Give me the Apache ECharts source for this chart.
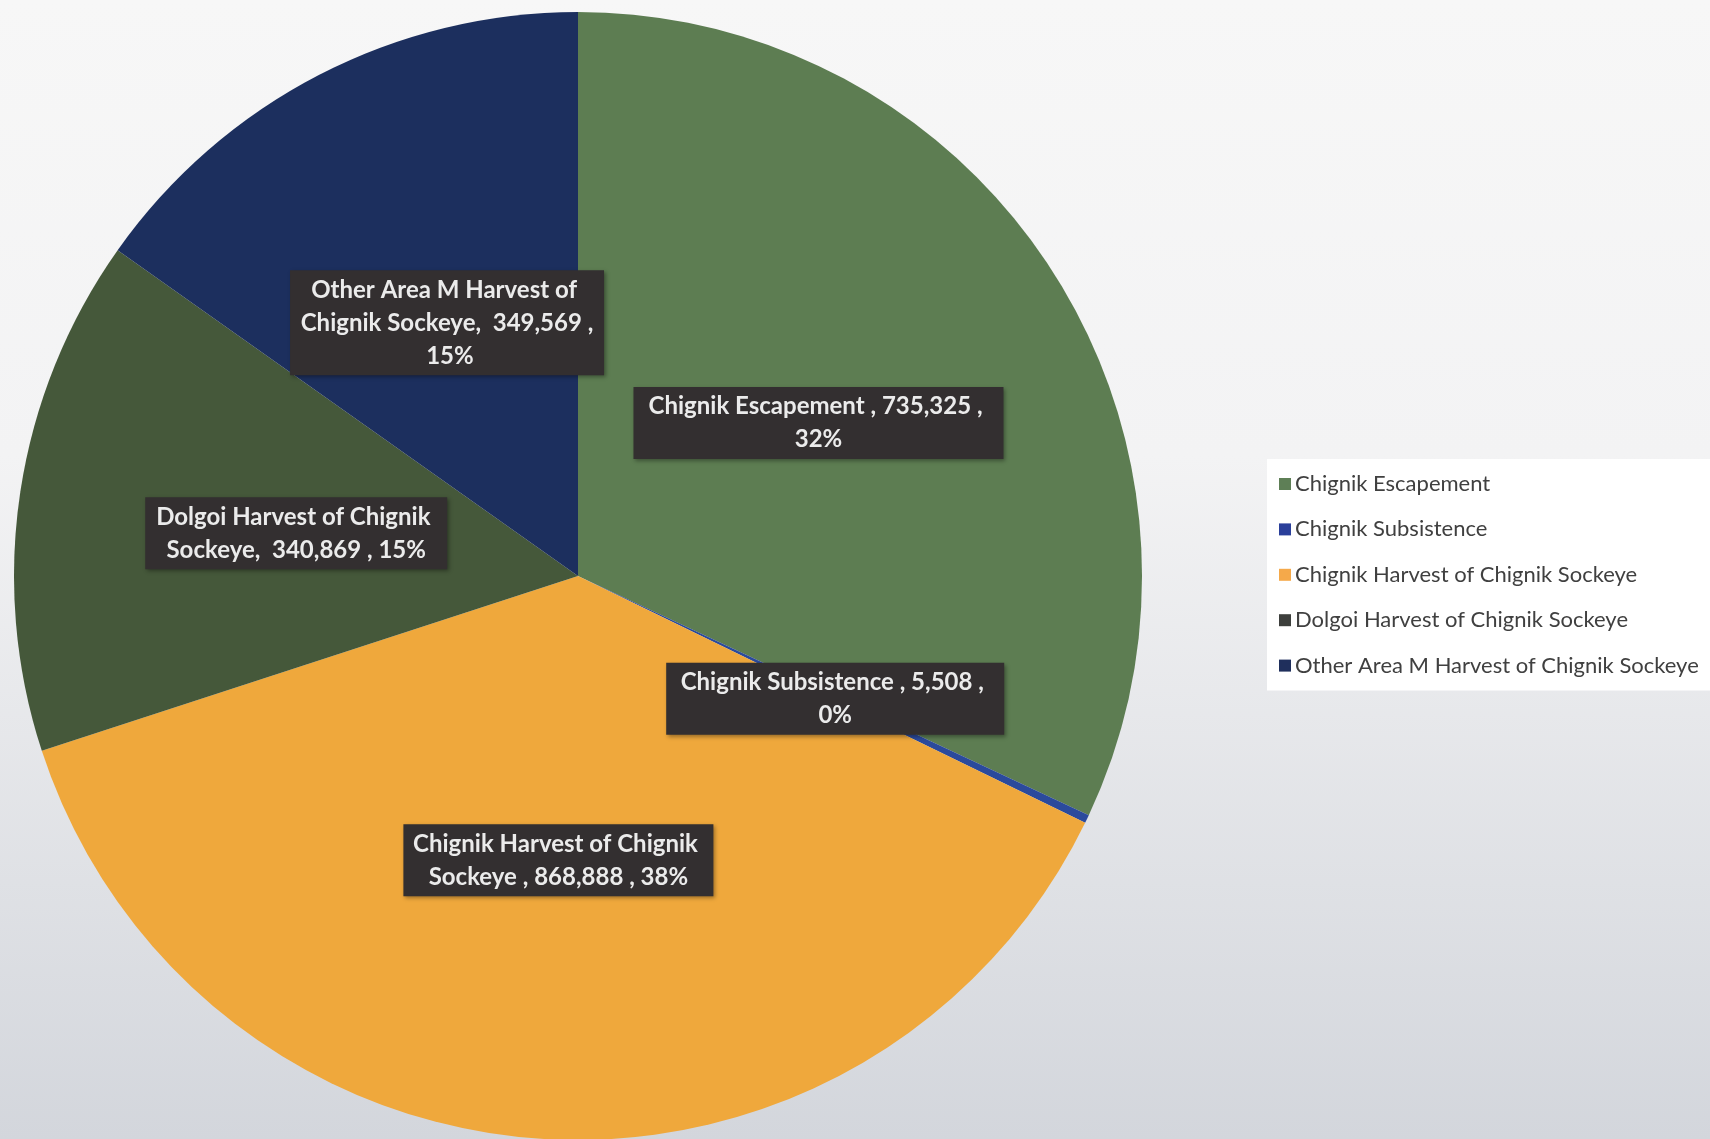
<!DOCTYPE html>
<html>
<head>
<meta charset="utf-8">
<script src="https://cdn.jsdelivr.net/npm/echarts@6/dist/echarts.min.js"></script>
<style>
  html, body { margin: 0; padding: 0; width: 1710px; height: 1139px; overflow: hidden; }
  #chart { width: 1710px; height: 1139px; }
</style>
</head>
<body>
<div id="chart"></div>
<script>
// ---- data ----
const categories = [
  'Chignik Escapement ',
  'Chignik Subsistence ',
  'Chignik Harvest of Chignik Sockeye ',
  'Dolgoi Harvest of Chignik Sockeye',
  'Other Area M Harvest of Chignik Sockeye'
];
const values = [735325, 5508, 868888, 340869, 349569];

// ---- styles ----
const sliceColors = ['#5d7d52', '#2b4a9c', '#efa83c', '#45583a', '#1c2f5e'];
const legendColors = ['#5e7f56', '#2a3f9a', '#f5a94a', '#3d3f3c', '#1f2f5c'];
const labelWidths = [352, 320, 292, 284, 296];

const chart = echarts.init(document.getElementById('chart'), null, { renderer: 'canvas' });

const fmt = n => n.toLocaleString('en-US');

chart.setOption({
  animation: false,
  backgroundColor: {
    type: 'linear', x: 0, y: 0, x2: 0, y2: 1,
    colorStops: [
      { offset: 0, color: '#f7f7f7' },
      { offset: 0.4, color: '#f3f3f4' },
      { offset: 1, color: '#d3d6dc' }
    ]
  },
  legend: {
    orient: 'vertical',
    left: 1267,
    top: 459,
    width: 460,
    padding: [14, 40, 14, 12],
    backgroundColor: '#ffffff',
    icon: 'rect',
    itemWidth: 12,
    itemHeight: 12,
    itemGap: 23.4,
    textStyle: { fontFamily: 'Lato', fontSize: 22, color: '#404040', padding: [0, 0, 0, -1] },
    data: categories.map((c, i) => ({ name: c, itemStyle: { color: legendColors[i] } }))
  },
  series: [{
    type: 'pie',
    center: [578, 576],
    radius: 564,
    startAngle: 90,
    clockwise: true,
    percentPrecision: 0,
    avoidLabelOverlap: false,
    itemStyle: { borderWidth: 0 },
    label: {
      show: true,
      position: 'inside',
      fontFamily: 'Lato',
      fontWeight: 'bold',
      fontSize: 24,
      lineHeight: 33,
      color: '#ebebeb',
      backgroundColor: '#332f30',
      padding: [3, 9, 3, 9],
      overflow: 'break',
      align: 'center',
      shadowColor: 'rgba(0,0,0,0.35)',
      shadowBlur: 4,
      shadowOffsetX: 2,
      shadowOffsetY: 2,
      formatter: p => p.name + (p.name.endsWith(' ') ? ', ' : ',  ') + fmt(p.value) + ' , ' + p.percent + '%'
    },
    labelLine: { show: false },
    emphasis: { disabled: true },
    data: categories.map((c, i) => ({
      name: c,
      value: values[i],
      itemStyle: { color: sliceColors[i] },
      label: { width: labelWidths[i] }
    }))
  }]
});
</script>
</body>
</html>
